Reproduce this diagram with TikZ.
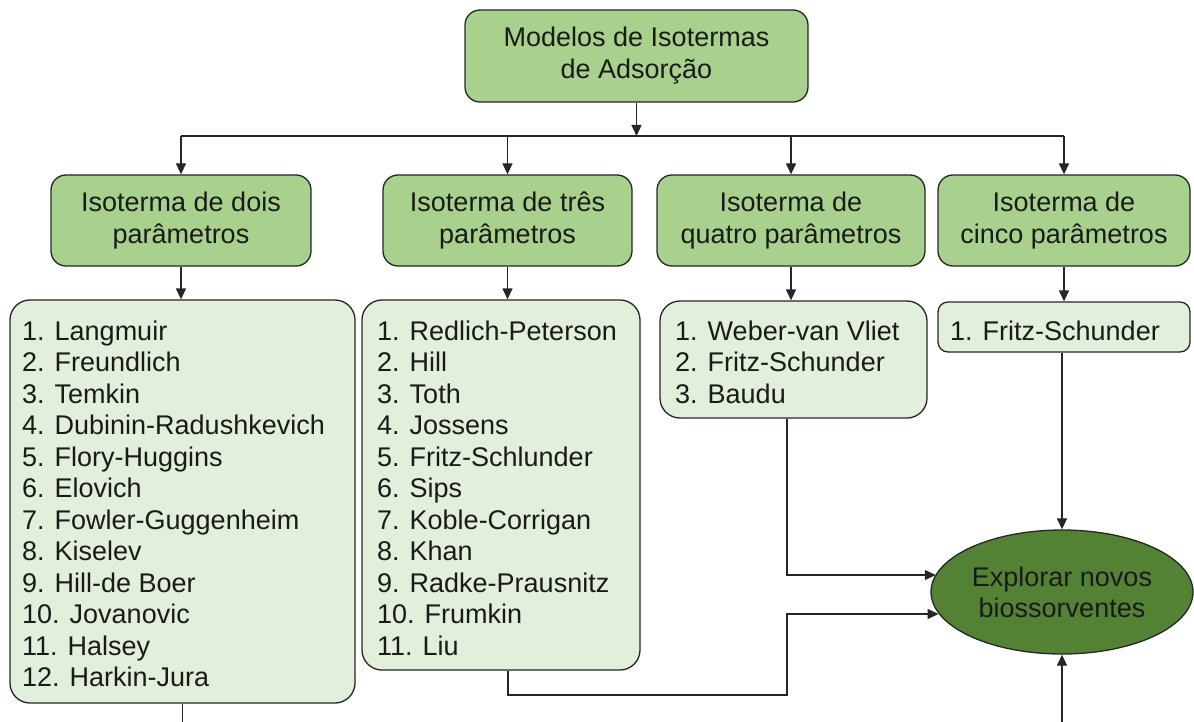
\documentclass[tikz,border=0pt]{standalone}
\usepackage{fontspec}
\setmainfont{Liberation Sans}
\usetikzlibrary{shapes.geometric,arrows.meta}
\definecolor{gA}{HTML}{A9D18E}
\definecolor{gB}{HTML}{E2EFDA}
\definecolor{gC}{HTML}{548235}
\definecolor{ln}{HTML}{262626}
\definecolor{tx}{HTML}{1A1A1A}
\begin{document}
\begin{tikzpicture}[x=1pt,y=-1pt,
 box/.style={draw=ln, line width=1.3pt, rounded corners=15pt, inner sep=0pt, align=center, text=tx, font=\fontsize{27}{32}\selectfont},
 hdr/.style={box, fill=gA},
 lst/.style={draw=ln, line width=1.3pt, rounded corners=20pt, fill=gB, inner sep=0pt},
 lsttext/.style={anchor=north west, inner sep=0pt, align=left, text=tx, font=\fontsize{27}{31.5}\selectfont},
 conn/.style={draw=ln, line width=1.3pt},
 arr/.style={conn, -{Triangle[length=11pt,width=10pt]}}
]
\useasboundingbox (0,0) rectangle (1194,722);

\node[hdr, minimum width=343pt, minimum height=92pt] (top) at (636.5,56) {Modelos de Isotermas\\de Adsorção};

\node[hdr, minimum width=260pt, minimum height=91pt] (b1) at (181,220.5) {Isoterma de dois\\parâmetros};
\node[hdr, minimum width=249pt, minimum height=91pt] (b2) at (507.5,220.5) {Isoterma de três\\parâmetros};
\node[hdr, minimum width=268pt, minimum height=91pt] (b3) at (791,220.5) {Isoterma de\\quatro parâmetros};
\node[hdr, minimum width=252pt, minimum height=91pt] (b4) at (1064,220.5) {Isoterma de\\cinco parâmetros};

\node[lst, minimum width=345pt, minimum height=403pt] (l1) at (182.5,501.5) {};
\node[lsttext] (l1t) at (22,318) {\strut 1. Langmuir\\2. Freundlich\\3. Temkin\\4. Dubinin-Radushkevich\\5. Flory-Huggins\\6. Elovich\\7. Fowler-Guggenheim\\8. Kiselev\\9. Hill-de Boer\\10. Jovanovic\\11. Halsey\\12. Harkin-Jura};

\node[lst, minimum width=278pt, minimum height=370pt] (l2) at (501,485) {};
\node[lsttext] (l2t) at (377,318) {\strut 1. Redlich-Peterson\\2. Hill\\3. Toth\\4. Jossens\\5. Fritz-Schlunder\\6. Sips\\7. Koble-Corrigan\\8. Khan\\9. Radke-Prausnitz\\10. Frumkin\\11. Liu};

\node[lst, minimum width=267pt, minimum height=117pt] (l3) at (793.5,359.5) {};
\node[lsttext] (l3t) at (675,318) {\strut 1. Weber-van Vliet\\2. Fritz-Schunder\\3. Baudu};

\node[lst, rounded corners=10pt, minimum width=252pt, minimum height=50pt] (l4) at (1064,327) {};
\node[lsttext] (l4t) at (950,318) {\strut 1. Fritz-Schunder};

\node[ellipse, draw=ln, line width=1.3pt, fill=gC, minimum width=262pt, minimum height=124pt, inner sep=0pt, align=center, text=tx, font=\fontsize{27}{31}\selectfont] (ell) at (1062,592) {Explorar novos\\biossorventes};

% bus
\coordinate (bus) at (0,136);
\draw[conn] (b1.north |- bus) -- (b4.north |- bus);
\draw[arr] (top.south) -- (top.south |- bus);
\foreach \n in {b1,b2,b3,b4} \draw[arr] (\n.north |- bus) -- (\n.north);

% row2 to row3
\draw[arr] (b1.south) -- (b1.south |- l1.north);
\draw[arr] (b2.south) -- (b2.south |- l2.north);
\draw[arr] (b3.south) -- (b3.south |- l3.north);
\draw[arr] (b4.south) -- (b4.south |- l4.north);

% to ellipse
\coordinate (j) at (787,575);
\draw[arr] (l3.south -| j) -- (j) -- (j -| ell.172);
\coordinate (k1) at (508,695);
\coordinate (k2) at (787,614);
\draw[arr] (l2.south -| k1) -- (k1) -- (k1 -| k2) -- (k2) -- (k2 -| ell.190);
\draw[arr] (l4.south -| ell.north) -- (ell.north);

% bottom edges
\coordinate (bot1) at (182,722);
\draw[conn] (l1.south) -- (l1.south |- bot1);
\coordinate (bot2) at (1062,722);
\draw[arr] (bot2) -- (ell.south);
\end{tikzpicture}
\end{document}
